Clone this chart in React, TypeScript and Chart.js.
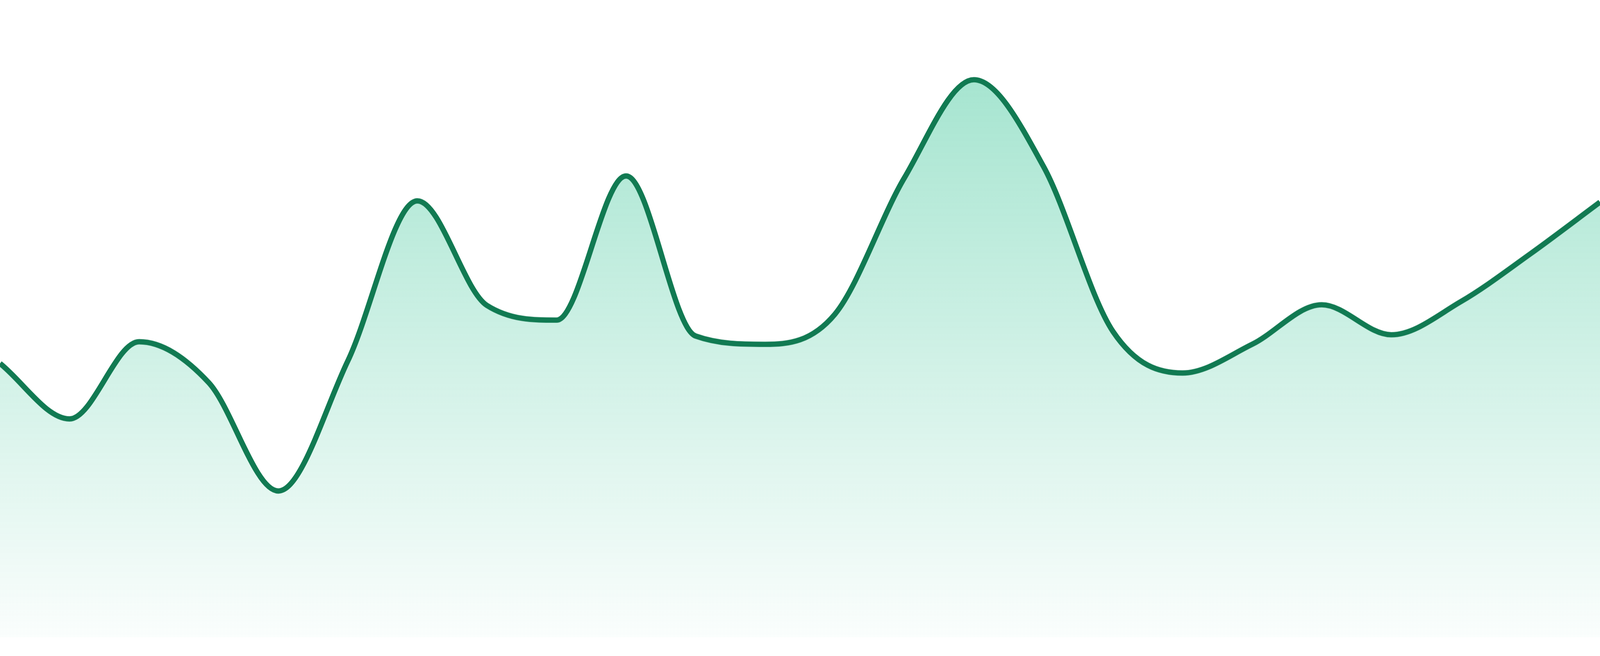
import { useEffect, useRef } from "react";
import { Chart, registerables } from "chart.js";

Chart.register(...registerables);

// 24 sampled periods (axis is hidden in the original)
const periods = [
  "P1", "P2", "P3", "P4", "P5", "P6", "P7", "P8",
  "P9", "P10", "P11", "P12", "P13", "P14", "P15", "P16",
  "P17", "P18", "P19", "P20", "P21", "P22", "P23", "P24",
];

// values (0-100 scale)
const values = [
  43.0, 34.3, 46.4, 40.0, 23.0, 43.4, 68.5, 52.1,
  49.8, 72.4, 47.3, 46.0, 50.7, 72.1, 87.5, 73.9,
  48.0, 41.5, 46.0, 52.2, 47.5, 52.7, 60.2, 68.3,
];

const yMin = 0;
const yMax = 100;

const lineColor = "#117a52";

export default function App() {
  const canvasRef = useRef<HTMLCanvasElement>(null);

  useEffect(() => {
    document.body.style.margin = "0";
    const canvas = canvasRef.current;
    if (!canvas) return;
    const boxWidth = canvas.parentElement ? canvas.parentElement.clientWidth : 4800;

    const chart = new Chart(canvas, {
      type: "line",
      data: {
        labels: periods,
        datasets: [
          {
            data: values,
            borderColor: lineColor,
            borderWidth: boxWidth / 300,
            pointRadius: 0,
            pointHoverRadius: 0,
            cubicInterpolationMode: "monotone",
            fill: "start",
            backgroundColor: (ctx: any) => {
              const area = ctx.chart.chartArea;
              if (!area) return "rgba(16,185,129,0.2)";
              const g = ctx.chart.ctx.createLinearGradient(0, area.top, 0, area.bottom);
              g.addColorStop(0, "rgba(16,185,129,0.42)");
              g.addColorStop(1, "rgba(16,185,129,0.02)");
              return g;
            },
          },
        ],
      },
      options: {
        animation: false,
        responsive: true,
        maintainAspectRatio: false,
        layout: { padding: 0, autoPadding: false },
        plugins: {
          legend: { display: false },
          tooltip: { enabled: false },
        },
        scales: {
          x: { display: false, offset: false },
          y: { display: false, min: yMin, max: yMax },
        },
      },
    });

    return () => chart.destroy();
  }, []);

  return (
    <div
      style={{
        position: "fixed",
        left: 0,
        top: 0,
        width: "100vw",
        height: "100vh",
        background: "#fff",
      }}
    >
      <div style={{ position: "relative", width: "100%", height: "97.14%" }}>
        <canvas ref={canvasRef}></canvas>
      </div>
    </div>
  );
}
